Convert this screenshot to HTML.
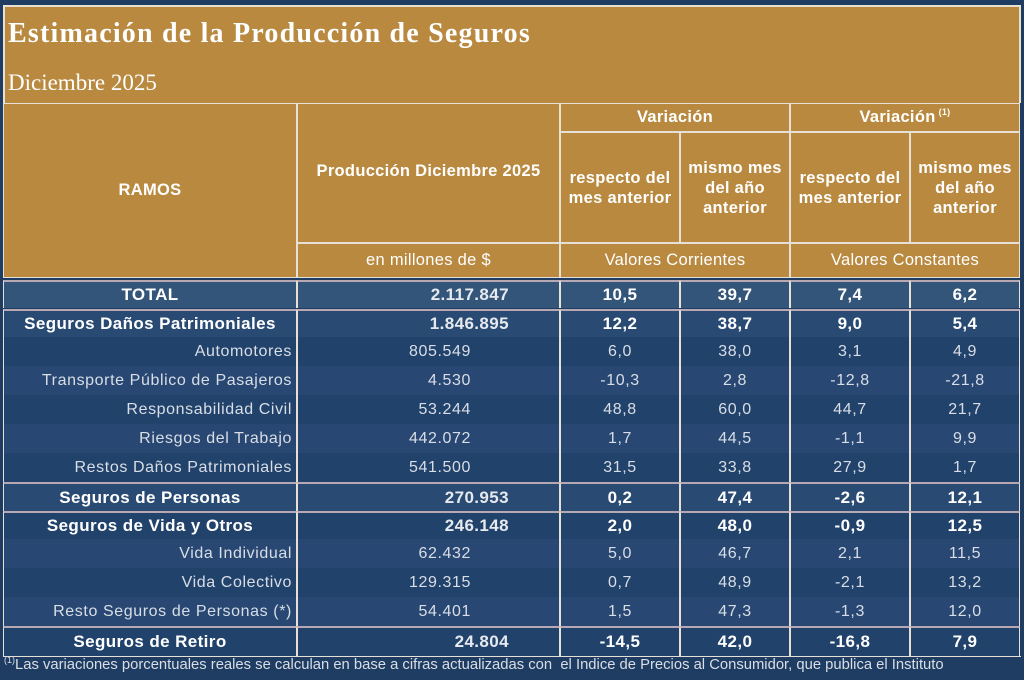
<!DOCTYPE html><html><head><meta charset="utf-8"><style>
body{margin:0;width:1024px;height:680px;background:#1f3d63;position:relative;overflow:hidden;font-family:"Liberation Sans",sans-serif}
.a{position:absolute;box-sizing:border-box}
.h{background:#b8893f}
.c{display:flex;align-items:center;justify-content:center;color:#fff;text-align:center;white-space:nowrap}
.r{justify-content:flex-end}
.b{font-weight:bold}
.n{color:#d9dee6;font-size:16px;letter-spacing:0.6px}
.s{font-size:9px;position:relative;top:-6px;margin-left:3px}
</style></head><body>
<div class="a h" style="left:3px;top:5px;width:1018px;height:98px;border:2px solid #e8e0d0;border-bottom:none"></div>
<div class="a" style="left:8px;top:18px;color:#fff;font:bold 28px 'Liberation Serif',serif;letter-spacing:1.2px">Estimación de la Producción de Seguros</div>
<div class="a" style="left:8px;top:70px;color:#fff;font:23px 'Liberation Serif',serif">Diciembre 2025</div>
<div id="t"></div>
<div class="a" style="left:4px;top:657px;color:#d9dee6;font-size:14.8px;white-space:nowrap"><span class="s" style="margin-left:0">(1)</span>Las variaciones porcentuales reales se calculan en base a cifras actualizadas con &nbsp;el Indice de Precios al Consumidor, que publica el Instituto</div>
<script>
const X=[3,297,560,680,790,910,1020];
let H='';
function cell(x,y,w,h,bg,txt,cls,st){H+=`<div class="a c ${cls||''}" style="left:${x}px;top:${y}px;width:${w}px;height:${h}px;background:${bg};border:1px solid #e6e0d6;${st||''}">${txt}</div>`}
const G='#b8893f';
const HF='font-size:16.5px;letter-spacing:0.3px;';
cell(3,103,294,175,G,'RAMOS','b',HF);
cell(297,103,263,140,G,'Producción Diciembre 2025','b',HF+'padding-bottom:4px');
cell(297,243,263,35,G,'en millones de $','',HF);
cell(560,103,230,29,G,'Variación','b',HF);
cell(790,103,230,29,G,'Variación<span class="s">(1)</span>','b',HF);
[[560,120],[680,110],[790,120],[910,110]].forEach((c,i)=>cell(c[0],132,c[1],111,G,i%2==0?'respecto del<br>mes anterior':'mismo mes<br>del año<br>anterior','b',HF+'line-height:20px;white-space:normal'));
cell(560,243,230,35,G,'Valores Corrientes','',HF);
cell(790,243,230,35,G,'Valores Constantes','',HF);
const rows=[
['TOTAL','2.117.847','10,5','39,7','7,4','6,2',1,280,28,'#34557a'],
['Seguros Daños Patrimoniales','1.846.895','12,2','38,7','9,0','5,4',1,309,28,'#294a72'],
['Automotores','805.549','6,0','38,0','3,1','4,9',0,337,29,'#21426b'],
['Transporte Público de Pasajeros','4.530','-10,3','2,8','-12,8','-21,8',0,366,29,'#284873'],
['Responsabilidad Civil','53.244','48,8','60,0','44,7','21,7',0,395,29,'#21426b'],
['Riesgos del Trabajo','442.072','1,7','44,5','-1,1','9,9',0,424,29,'#284873'],
['Restos Daños Patrimoniales','541.500','31,5','33,8','27,9','1,7',0,453,29,'#21426b'],
['Seguros de Personas','270.953','0,2','47,4','-2,6','12,1',1,482,29,'#294a72'],
['Seguros de Vida y Otros','246.148','2,0','48,0','-0,9','12,5',1,511,28,'#21426b'],
['Vida Individual','62.432','5,0','46,7','2,1','11,5',0,539,29,'#284873'],
['Vida Colectivo','129.315','0,7','48,9','-2,1','13,2',0,568,29,'#21426b'],
['Resto Seguros de Personas (*)','54.401','1,5','47,3','-1,3','12,0',0,597,29,'#284873'],
['Seguros de Retiro','24.804','-14,5','42,0','-16,8','7,9',1,626,30,'#21426b']];
const BF='font-size:17px;letter-spacing:0.4px;';
rows.forEach(r=>{const b=r[6],y=r[7],h=r[8],bg=r[9];
 const bc=b?'border-top:2px solid #b8a8b4;':'border-top:none;';
 cell(3,y,294,h,bg,r[0],b?'b':'n r',(b?BF:'padding-right:4px;')+bc+'border-bottom:none');
 cell(297,y,263,h,bg,r[1],b?'b r':'n r',(b?BF+'padding-right:50px;color:#e6e9ee;':'padding-right:88px;')+bc+'border-bottom:none');
 for(let i=0;i<4;i++)cell(X[i+2],y,X[i+3]-X[i+2],h,bg,r[i+2],b?'b':'n',(b?BF:'')+bc+'border-bottom:none');
});
H+='<div class="a" style="left:3px;top:656px;width:1018px;height:1px;background:#e6e0d6"></div>';
document.getElementById('t').outerHTML=H;
</script>
</body></html>
